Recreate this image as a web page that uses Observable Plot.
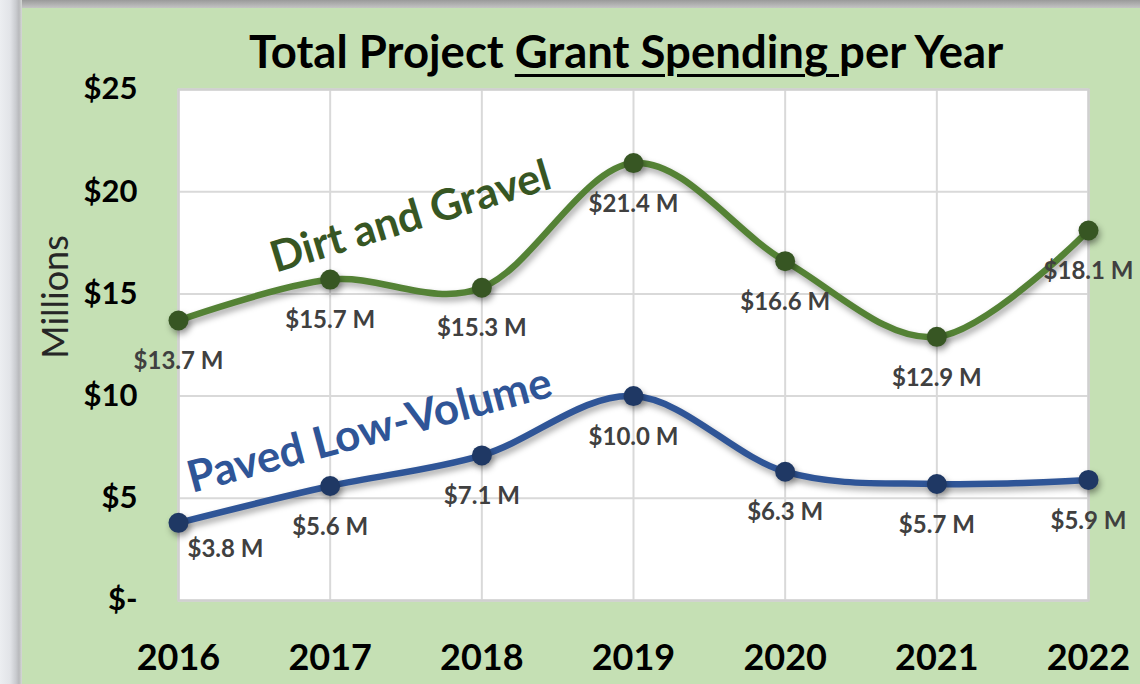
<!DOCTYPE html>
<html>
<head>
<meta charset="utf-8">
<script src="https://cdn.jsdelivr.net/npm/d3@7"></script>
<script src="https://cdn.jsdelivr.net/npm/@observablehq/plot@0.6"></script>
<style>
  html, body { margin: 0; padding: 0; }
  body { width: 1140px; height: 684px; overflow: hidden; background: #c5e0b4; }
  #wrap { position: relative; width: 1140px; height: 684px; background: #c5e0b4; }
  #title {
    position: absolute; left: 56px; top: 0; width: 1140px; height: 72px;
    text-align: center; font-family: Lato, "Open Sans", sans-serif; font-weight: bold;
    font-size: 45.5px; line-height: 72px; padding-top: 15px; box-sizing: border-box; color: #000;
    white-space: nowrap;
  }
  #title u { text-decoration-thickness: 3px; text-underline-offset: 6px; }
  #chart { position: absolute; left: 0; top: 72px; }
  #frameTop { position: absolute; left: 0; top: 0; width: 1140px; height: 8px;
    background: linear-gradient(#9a9a9a, #c4c4c4); }
  #frameLeft { position: absolute; left: 0; top: 0; width: 22px; height: 684px;
    background: linear-gradient(to right, #eceef1 0px, #e2e4e8 10px, #c9cbcf 16px, #b8b9bc 19px, #d5d8d5 22px); }
</style>
</head>
<body>
<div id="wrap">
  <div id="title">Total Project <u>Grant Spending </u>per Year</div>
  <div id="chart"></div>
  <div id="frameTop"></div>
  <div id="frameLeft"></div>
</div>
<script>
const years = [2016, 2017, 2018, 2019, 2020, 2021, 2022];
const dirtGravel = [13.7, 15.7, 15.3, 21.4, 16.6, 12.9, 18.1];
const pavedLowVolume = [3.8, 5.6, 7.1, 10.0, 6.3, 5.7, 5.9];
const yTicks = [0, 5, 10, 15, 20, 25];
const seriesNames = ["Dirt and Gravel", "Paved Low-Volume"];
const seriesLabelYears = [2017.53, 2017.26];
const seriesLabelValues = [18.75, 8.3];

const rows = [];
years.forEach((y, i) => {
  rows.push({series: seriesNames[0], year: y, value: dirtGravel[i]});
  rows.push({series: seriesNames[1], year: y, value: pavedLowVolume[i]});
});
const dirtRows = rows.filter(d => d.series === seriesNames[0]);
const pavedRows = rows.filter(d => d.series === seriesNames[1]);
const seriesLabels = seriesNames.map((n, i) => ({name: n, year: seriesLabelYears[i], value: seriesLabelValues[i]}));

const lineColor = {"Dirt and Gravel": "#548235", "Paved Low-Volume": "#2f5597"};
const dotColor = {"Dirt and Gravel": "#375623", "Paved Low-Volume": "#1f3864"};
const fmt = v => "$" + v.toFixed(1) + " M";
const FONT = "Lato, 'Open Sans', sans-serif";

const chart = Plot.plot({
  width: 1140,
  height: 612,
  marginTop: 17,
  marginBottom: 84,
  marginLeft: 178,
  marginRight: 52,
  style: {fontFamily: FONT, background: "transparent", color: "#000", overflow: "visible"},
  x: {domain: [2016, 2022], type: "linear"},
  y: {domain: [0, 25]},
  marks: [
    Plot.frame({fill: "white", stroke: "#d0d0d0", strokeWidth: 2}),
    Plot.gridX(years, {stroke: "#d9d9d9", strokeWidth: 2, strokeOpacity: 1}),
    Plot.gridY(yTicks, {stroke: "#d9d9d9", strokeWidth: 2, strokeOpacity: 1}),
    Plot.frame({stroke: "#d0d0d0", strokeWidth: 2}),
    Plot.axisY(yTicks, {tickSize: 0, tickPadding: 41, fontSize: 31, fontWeight: "bold", fill: "#000",
      tickFormat: d => d === 0 ? "$-" : "$" + d, label: null}),
    Plot.axisX(years, {tickSize: 0, tickPadding: 44, fontSize: 36, fontWeight: "bold", fill: "#000",
      tickFormat: d => String(d), label: null}),
    Plot.text(["Millions"], {frameAnchor: "left", textAnchor: "middle", rotate: -90, dx: -122, dy: -48, fontSize: 36, fill: "#262626"}),
    Plot.line(rows, {x: "year", y: "value", z: "series", stroke: d => lineColor[d.series], strokeWidth: 6.5,
      curve: "cardinal", tension: 0}),
    Plot.dot(rows, {x: "year", y: "value", r: 10, fill: d => dotColor[d.series], stroke: "none"}),
    Plot.text(dirtRows, {x: "year", y: "value", text: d => fmt(d.value), dy: 41, fontSize: 24, fontWeight: "bold", fill: "#404040"}),
    Plot.text(pavedRows, {x: "year", y: "value", text: d => fmt(d.value),
      fontSize: 24, fontWeight: "bold", fill: "#404040", dx: 0, dy: 41,
      filter: d => d.year !== 2016}),
    Plot.text(pavedRows, {x: "year", y: "value", text: d => fmt(d.value),
      fontSize: 24, fontWeight: "bold", fill: "#404040", dx: 47, dy: 26,
      filter: d => d.year === 2016}),
    Plot.text(seriesLabels.slice(0, 1), {x: "year", y: "value", text: "name", rotate: -17, fontSize: 43, fontWeight: "bold", fill: "#375623"}),
    Plot.text(seriesLabels.slice(1, 2), {x: "year", y: "value", text: "name", rotate: -15, fontSize: 44, fontWeight: "bold", fill: "#2f5597"})
  ]
});
document.getElementById("chart").appendChild(chart);
chart.querySelectorAll('g[aria-label="line"], g[aria-label="dot"]').forEach(g => {
  g.style.filter = "drop-shadow(2px 4px 3px rgba(0,0,0,0.35))";
});
</script>
</body>
</html>
